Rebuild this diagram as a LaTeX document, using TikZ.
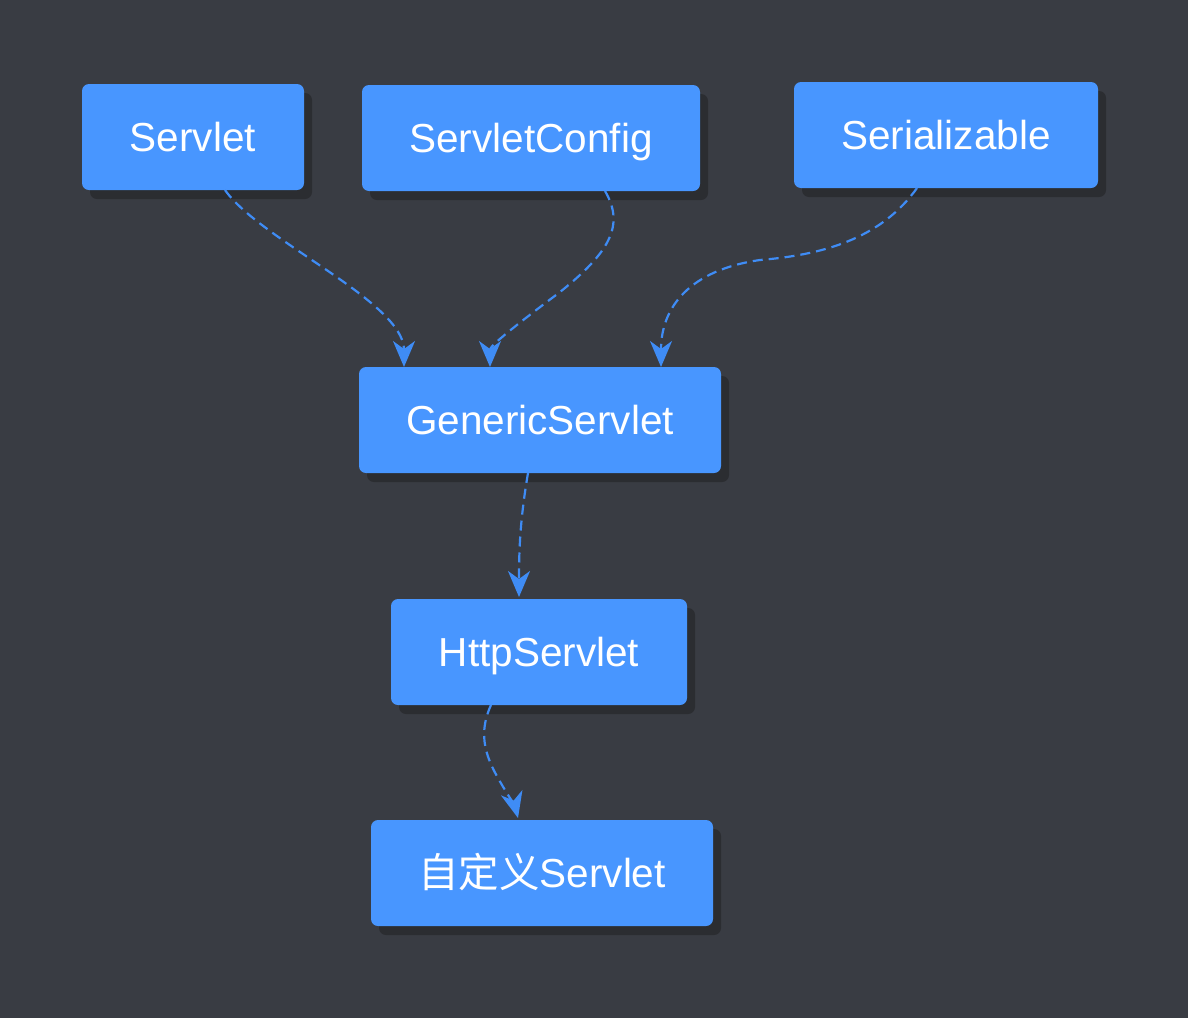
\documentclass[tikz,border=0pt]{standalone}
\usepackage{fontspec}
\setmainfont{Liberation Sans}
\newfontfamily\cjk{Noto Sans CJK SC}
\usetikzlibrary{arrows.meta,shadows,calc}
\definecolor{bgc}{HTML}{393C43}
\definecolor{boxc}{HTML}{4896FF}
\definecolor{shadc}{HTML}{2B2D31}
\definecolor{edgec}{HTML}{3F8CF5}
\tikzset{
  box/.style={fill=boxc, draw=none, rounded corners=7pt, inner sep=0pt, outer sep=0pt,
    minimum height=106pt, text=white, font=\fontsize{40.5}{48}\selectfont,
    text height=29pt, text depth=0pt,
    drop shadow={shadow xshift=8pt, shadow yshift=-9pt, fill=shadc, opacity=1}},
  conn/.style={draw=edgec, line width=2.2pt, dash pattern=on 10pt off 6pt,
    arrows={-Stealth[length=26pt,width=22pt,inset=8pt]}}
}
\begin{document}
\begin{tikzpicture}[x=1pt,y=-1pt]
\fill[bgc] (0,0) rectangle (1188,1018);
\useasboundingbox (0,0) rectangle (1188,1018);
\node[box, minimum width=222pt] (servlet) at (193,137) {Servlet};
\node[box, minimum width=338pt] (config) at (531,138) {ServletConfig};
\node[box, minimum width=304pt] (serial) at (946,135) {Serializable};
\node[box, minimum width=362pt] (generic) at (540,420) {GenericServlet};
\node[box, minimum width=296pt] (http) at (539,652) {HttpServlet};
\node[box, minimum width=342pt] (custom) at (542,873) {{\cjk 自定义}Servlet};
% connectors
\draw[conn] ([xshift=32pt]servlet.south) .. controls +(35,50) and +(0,-65) .. ([xshift=-136pt]generic.north);
\draw[conn] ([xshift=74pt]config.south) .. controls +(20,34) and +(50,-40) .. ($([xshift=-50pt]generic.north)+(70,-75)$)
  .. controls +(-60,45) and +(0,-20) .. ([xshift=-50pt]generic.north);
\draw[conn] ([xshift=-29pt]serial.south) .. controls +(-37,52) and +(60,-5) .. ($([xshift=121pt]generic.north)+(99,-107)$)
  .. controls +(-70,10) and +(0,-60) .. ([xshift=121pt]generic.north);
\draw[conn] ([xshift=-12pt]generic.south) .. controls +(-8,47) and +(0,-47) .. ([xshift=-20pt,yshift=2pt]http.north);
\draw[conn] ([xshift=-48pt]http.south) .. controls +(-16,35) and +(-15,-25) .. ($([xshift=-24pt]custom.north)+(-13,-30)$)
  .. controls +(8,13) and +(-3,-12) .. ([xshift=-24pt,yshift=2pt]custom.north);
\end{tikzpicture}
\end{document}
